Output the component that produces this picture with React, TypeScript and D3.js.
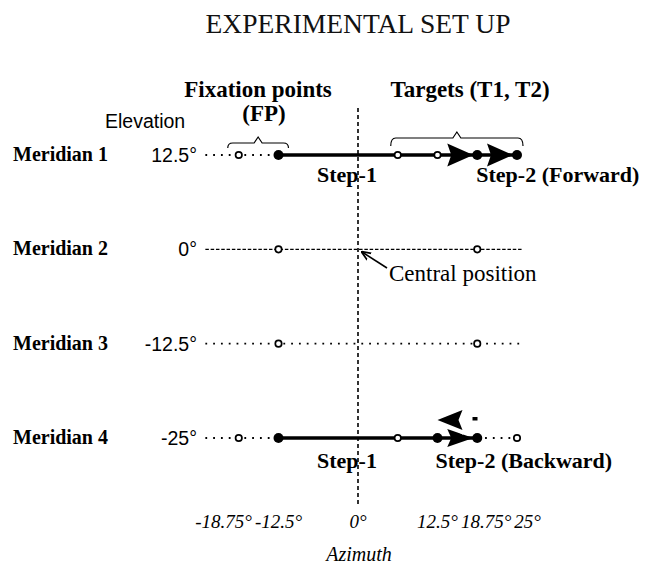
import React from "react";
import * as d3 from "d3";

const meridianNames = ["Meridian 1", "Meridian 2", "Meridian 3", "Meridian 4"];
const elevations = [12.5, 0, -12.5, -25];
const elevationLabels = ["12.5°", "0°", "-12.5°", "-25°"];
const azimuthTicks = [-18.75, -12.5, 0, 12.5, 18.75, 25];
const azimuthLabels = ["-18.75°", "-12.5°", "0°", "12.5°", "18.75°", "25°"];

// line segments per meridian: [from azimuth, to azimuth, style]
const m1Segments: [number, number, string][] = [[-24, -12.5, "dotted"], [-12.5, 25, "solid"]];
const m2Segments: [number, number, string][] = [[-24, 26, "dashed"]];
const m3Segments: [number, number, string][] = [[-24, 26, "dotted"]];
const m4Segments: [number, number, string][] = [[-24, -12.5, "dotted"], [-12.5, 18.75, "solid"], [18.75, 25, "dotted"]];
const segments = [m1Segments, m2Segments, m3Segments, m4Segments];

const openPoints = [[-18.75, 6.25, 12.5], [-12.5, 18.75], [-12.5, 18.75], [-18.75, 6.25, 25]];
const filledPoints = [[-12.5, 18.75, 25], [], [], [-12.5, 12.5, 18.75]];

// forward arrowheads (tip at azimuth) and backward arrowheads
const forwardArrows = [[18.75, 25], [], [], [18.75]];
const backwardArrows = [[], [], [], [12.5]];

const fixationGroup = [-18.75, -12.5];
const targetGroup = [6.25, 25];

const SERIF = '"Liberation Serif", "Times New Roman", serif';
const SANS = '"Liberation Sans", Arial, sans-serif';

const xScale = d3.scaleLinear().domain([0, 25]).range([358, 517]);
const yScale = d3.scaleLinear().domain([12.5, -25]).range([155, 438]);

function measure(text: string, font: string) {
  const c = document.createElement("canvas").getContext("2d");
  if (!c) return text.length * 9;
  c.font = font;
  return c.measureText(text).width;
}

function bracePath(x0: number, x1: number, yBase: number, h: number) {
  const xm = (x0 + x1) / 2;
  const yTop = yBase - h;
  return `M${x0},${yBase} Q${x0},${yTop} ${x0 + 5},${yTop} L${xm - 4},${yTop} L${xm},${yTop - 6} L${xm + 4},${yTop} L${x1 - 5},${yTop} Q${x1},${yTop} ${x1},${yBase}`;
}

function arrowRight(tip: number, y: number, len: number, h: number) {
  const b = tip - len;
  return `M${tip},${y} L${b},${y - h} L${b + 4},${y} L${b},${y + h} Z`;
}
function arrowLeft(tip: number, y: number, len: number, h: number) {
  const b = tip + len;
  return `M${tip},${y} L${b},${y - h} L${b - 4},${y} L${b},${y + h} Z`;
}

export default function App() {
  const tickFont = `italic 19px ${SERIF}`;
  const widths = azimuthLabels.map((t) => measure(t, tickFont));
  const gap = 3;
  const labelX: number[] = azimuthTicks.map((v) => xScale(v));
  // dodge positive labels outward
  const posIdx = azimuthTicks.map((v, i) => i).filter((i) => azimuthTicks[i] > 0);
  for (let k = 1; k < posIdx.length; k++) {
    const a = posIdx[k - 1], b = posIdx[k];
    const minX = labelX[a] + (widths[a] + widths[b]) / 2 + gap;
    if (labelX[b] < minX) labelX[b] = minX;
  }
  const negIdx = azimuthTicks.map((v, i) => i).filter((i) => azimuthTicks[i] < 0).reverse();
  for (let k = 1; k < negIdx.length; k++) {
    const a = negIdx[k - 1], b = negIdx[k];
    const maxX = labelX[a] - (widths[a] + widths[b]) / 2 - gap;
    if (labelX[b] > maxX) labelX[b] = maxX;
  }

  const dashFor = (style: string) =>
    style === "dashed" ? "3.5,1.8" : style === "dotted" ? "1.8,6" : undefined;

  return (
    <svg width={653} height={566} style={{ position: "absolute", left: 0, top: 0, background: "#fff" }}>
      <text x={xScale(0)} y={33} textAnchor="middle" fontFamily={SERIF} fontSize={27.5} fill="#111">
        EXPERIMENTAL SET UP
      </text>

      <text x={258} y={97} textAnchor="middle" fontFamily={SERIF} fontWeight="bold" fontSize={23}>Fixation points</text>
      <text x={264} y={121} textAnchor="middle" fontFamily={SERIF} fontWeight="bold" fontSize={23}>(FP)</text>
      <text x={470} y={97} textAnchor="middle" fontFamily={SERIF} fontWeight="bold" fontSize={23}>Targets (T1, T2)</text>
      <text x={105} y={128} fontFamily={SANS} fontSize={19.5}>Elevation</text>

      {/* central vertical line */}
      <line x1={xScale(0)} x2={xScale(0)} y1={108} y2={507} stroke="#000" strokeWidth={1.6} strokeDasharray="4,3" />

      {/* braces */}
      <path d={bracePath(xScale(fixationGroup[0]) - 11, xScale(fixationGroup[1]) + 10, 148, 5)} fill="none" stroke="#000" strokeWidth={1.2} />
      <path d={bracePath(xScale(targetGroup[0]) - 7, xScale(targetGroup[1]) + 6, 146, 8)} fill="none" stroke="#000" strokeWidth={1.2} />

      {meridianNames.map((name, i) => {
        const y = yScale(elevations[i]);
        return (
          <g key={name}>
            <text x={13} y={y + 6} fontFamily={SERIF} fontWeight="bold" fontSize={20}>{name}</text>
            <text x={197} y={y + 7} textAnchor="end" fontFamily={SANS} fontSize={19.5}>{elevationLabels[i]}</text>
            {segments[i].map(([a, b, s], j) => (
              <line key={j} x1={xScale(a)} x2={xScale(b)} y1={y} y2={y} stroke="#000"
                strokeWidth={s === "solid" ? 3.6 : s === "dashed" ? 1.2 : 1.8}
                strokeDasharray={dashFor(s)} />
            ))}
            {forwardArrows[i].map((v, j) => (
              <path key={"f" + j} d={arrowRight(xScale(v) - 4, y, i === 0 ? 26 : 26, i === 0 ? 11.5 : 9)} fill="#000" />
            ))}
            {backwardArrows[i].map((v, j) => (
              <g key={"b" + j}>
                <line x1={xScale(v) + 12} x2={xScale(v) + 26} y1={y - 12} y2={y - 4} stroke="#fff" strokeWidth={2} />
                <path d={arrowLeft(xScale(v), y - 18, 25, 10)} fill="#000" />
                <rect x={xScale(v) + 35} y={y - 21} width={5} height={3.5} fill="#000" />
              </g>
            ))}
            {openPoints[i].map((v, j) => (
              <circle key={"o" + j} cx={xScale(v)} cy={y} r={3.2} fill="#fff" stroke="#000" strokeWidth={1.7} />
            ))}
            {filledPoints[i].map((v, j) => (
              <circle key={"c" + j} cx={xScale(v)} cy={y} r={5} fill="#000" />
            ))}
          </g>
        );
      })}

      {/* step labels */}
      <text x={xScale(0) - 11} y={yScale(12.5) + 27} textAnchor="middle" fontFamily={SERIF} fontWeight="bold" fontSize={22}>Step-1</text>
      <text x={xScale(18.75) - 1} y={yScale(12.5) + 27} fontFamily={SERIF} fontWeight="bold" fontSize={22}>Step-2 (Forward)</text>
      <text x={xScale(0) - 11} y={yScale(-25) + 30} textAnchor="middle" fontFamily={SERIF} fontWeight="bold" fontSize={22}>Step-1</text>
      <text x={xScale(12.5) - 2} y={yScale(-25) + 30} fontFamily={SERIF} fontWeight="bold" fontSize={22}>Step-2 (Backward)</text>

      {/* central position annotation */}
      <defs>
        <marker id="ah" viewBox="0 0 10 10" refX={9} refY={5} markerWidth={6} markerHeight={6} orient="auto-start-reverse">
          <path d="M0,1 L10,5 L0,9" fill="none" stroke="#000" strokeWidth={1.8} />
        </marker>
      </defs>
      <line x1={387} y1={268} x2={362} y2={252} stroke="#000" strokeWidth={1.6} markerEnd="url(#ah)" />
      <text x={389} y={281} fontFamily={SERIF} fontSize={23}>Central position</text>

      {/* azimuth tick labels */}
      {azimuthLabels.map((t, i) => (
        <text key={t} x={labelX[i]} y={528} textAnchor="middle" fontFamily={SERIF} fontStyle="italic" fontSize={19}>{t}</text>
      ))}
      <text x={xScale(0) + 1} y={561} textAnchor="middle" fontFamily={SERIF} fontStyle="italic" fontSize={20}>Azimuth</text>
    </svg>
  );
}
